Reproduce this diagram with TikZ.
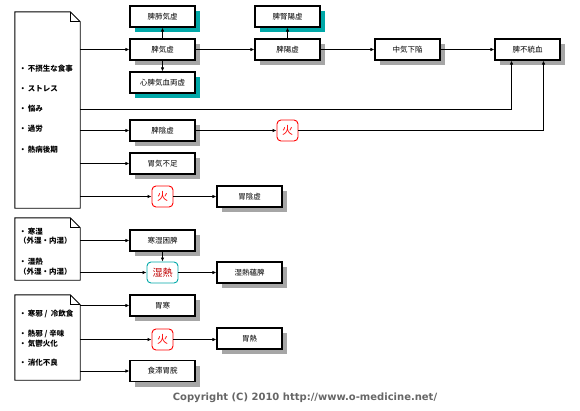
\documentclass[tikz,border=0pt]{standalone}
\usepackage{fontspec}
\newfontfamily\cjk{Noto Sans CJK JP}
\newfontfamily\verd{DejaVu Sans}
\usetikzlibrary{arrows.meta, shadows}
\definecolor{ShadowGray}{HTML}{A6A6A6}
\definecolor{DeepTeal}{HTML}{00A8A8}
\definecolor{FireRed}{HTML}{FF0000}
\definecolor{DampRed}{HTML}{C00000}
\definecolor{NoteGray}{HTML}{666666}

\tikzset{
  box/.style={draw, line width=1.1pt, fill=white, minimum width=65pt, minimum height=21pt,
    inner sep=0pt, font=\cjk\fontsize{7.5}{8}\selectfont},
  gbox/.style={box, drop shadow={shadow xshift=5pt, shadow yshift=-5pt, fill=ShadowGray, opacity=1}},
  tbox/.style={box, drop shadow={shadow xshift=5pt, shadow yshift=-5pt, fill=DeepTeal, opacity=1}},
  fire/.style={draw=FireRed, line width=0.9pt, rounded corners=4pt, fill=white, minimum size=21pt,
    inner sep=0pt, text=FireRed, font=\cjk\fontsize{11}{12}\selectfont},
  damp/.style={fire, draw=DeepTeal, minimum width=31pt, text=DampRed, font=\cjk\fontsize{10}{12}\selectfont},
  doc/.style={draw=none, inner sep=0pt, minimum width=65pt},
  item/.style={anchor=west, inner sep=0pt, font=\cjk\bfseries\fontsize{7.5}{8}\selectfont},
  link/.style={-{Latex[length=4pt,width=3.5pt]}, line width=0.8pt},
}
% document outline with folded corner
\newcommand\dogear[1]{%
  \draw[line width=0.9pt] (#1.south west) -- (#1.north west) -- ([xshift=-10pt]#1.north east)
    -- ([yshift=-10pt]#1.north east) -- (#1.south east) -- cycle;
  \draw[line width=0.9pt] ([xshift=-10pt]#1.north east) |- ([yshift=-10pt]#1.north east);}

\begin{document}
\begin{tikzpicture}[x=1pt, y=-1pt, >=Stealth]
  \useasboundingbox (0,0) rectangle (580,410);

  % causes
  \node[doc, minimum height=196pt] (doc1) at (47.5,110) {};
  \node[doc, minimum height=62pt] (doc2) at (47.5,249) {};
  \node[doc, minimum height=85pt] (doc3) at (47.5,337.5) {};
  \dogear{doc1} \dogear{doc2} \dogear{doc3}

  \node[item] (t1) at (19,69) {・\,不摂生な食事};
  \node[item] (t2) at (19,89) {・\,ストレス};
  \node[item] (t3) at (19,109) {・\,悩み};
  \node[item] (t4) at (19,129) {・\,過労};
  \node[item] (t5) at (19,150) {・\,熱病後期};

  \node[item] (u1) at (19,232) {・\,寒湿};
  \node[item] (u2) at (19,241) {（外湿・内湿）};
  \node[item] (u3) at (19,262) {・\,湿熱};
  \node[item] (u4) at (19,272) {（外湿・内湿）};

  \node[item] (v1) at (19,314) {・\,寒邪 /\ \ 冷飲食};
  \node[item] (v2) at (19,334) {・\,熱邪 / 辛味};
  \node[item] (v3) at (19,344) {・\,気鬱火化};
  \node[item] (v4) at (19,363) {・\,消化不良};

  % patterns
  \node[tbox] (bpf) at (162.5,16.5) {脾肺気虚};
  \node[gbox] (bqx) at (162.5,49.5) {脾気虚};
  \node[tbox] (bxp) at (162.5,82.5) {心脾気血両虚};
  \node[tbox] (bsy) at (287.5,16.5) {脾腎陽虚};
  \node[gbox] (byang) at (287.5,49.5) {脾陽虚};
  \node[gbox] (bzq) at (407.5,49.5) {中気下陥};
  \node[gbox] (bft) at (527.5,49.5) {脾不統血};
  \node[gbox] (byin) at (162.5,130.5) {脾陰虚};
  \node[fire] (fire1) at (287.5,130.5) {火};
  \node[gbox] (bwq) at (162.5,163.5) {胃気不足};
  \node[fire] (fire2) at (162.5,196.5) {火};
  \node[gbox] (bwy) at (249.5,196.5) {胃陰虚};

  \node[gbox] (bhs) at (162.5,240.5) {寒湿困脾};
  \node[damp] (shr) at (162.5,272.5) {湿熱};
  \node[gbox] (bsr) at (249.5,272.5) {湿熱蘊脾};

  \node[gbox] (bwh) at (162.5,305.5) {胃寒};
  \node[fire] (fire3) at (162.5,339.5) {火};
  \node[gbox] (bwr) at (249.5,338.5) {胃熱};
  \node[gbox] (bss) at (162.5,371) {食滞胃脘};

  % connectors
  \draw[link] (doc1.east |- bqx) -- (bqx);
  \draw[link] (bqx) -- (bpf);
  \draw[link] (bqx) -- (bxp);
  \draw[link] (bqx) -- (byang);
  \draw[link] (byang) -- (bsy);
  \draw[link] (byang) -- (bzq);
  \draw[link] (bzq) -- (bft);
  \draw[link] (doc1.east |- t3) -| ([xshift=-16pt]bft.south);
  \draw[link] (doc1.east |- byin) -- (byin);
  \draw[link] (byin) -- (fire1);
  \draw[link] (fire1) -| ([xshift=16pt]bft.south);
  \draw[link] (doc1.east |- bwq) -- (bwq);
  \draw[link] (doc1.east |- fire2) -- (fire2);
  \draw[link] (fire2) -- (bwy);

  \draw[link] (doc2.east |- bhs) -- (bhs);
  \draw[link] (doc2.east |- shr) -- (shr);
  \draw[link] (bhs) -- (shr);
  \draw[link] (shr) -- (bsr);

  \draw[link] (doc3.east |- bwh) -- (bwh);
  \draw[link] (doc3.east |- fire3) -- (fire3);
  \draw[link] (fire3) -- (fire3 -| bwr.west);
  \draw[link] (doc3.east |- bss) -- (bss);

  \node[text=NoteGray, font=\verd\bfseries\fontsize{10}{12}\selectfont] (note) at (305,398)
    {Copyright (C) 2010 http://www.o-medicine.net/};
\end{tikzpicture}
\end{document}
